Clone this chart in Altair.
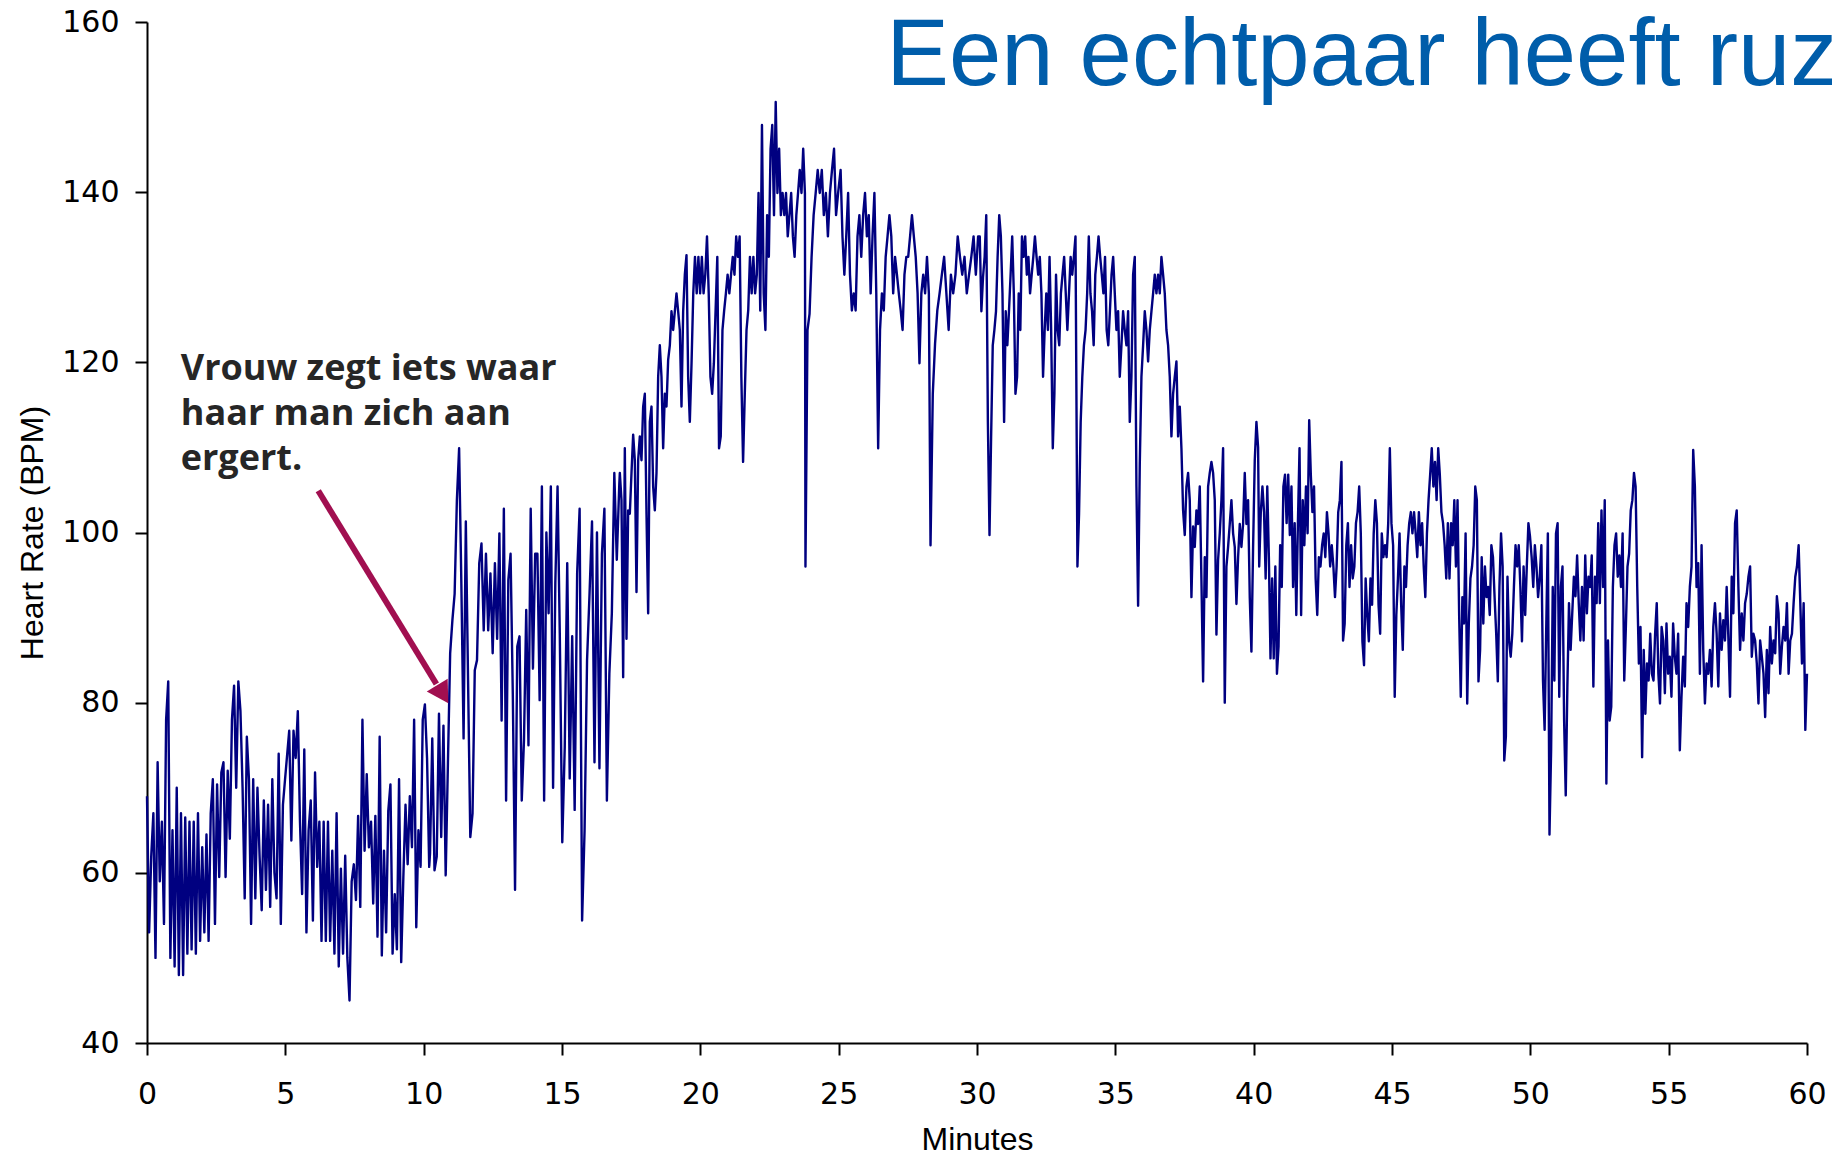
import altair as alt
import pandas as pd
import numpy as np

# ---- heart-rate readings (BPM) ----
hr_00 = [69, 53, 62, 67, 50, 73, 59, 66, 54, 78, 82.5, 50, 65, 49, 70, 48, 67, 48, 66.5, 50.5,
         66, 51, 66, 50.5, 67, 52, 63, 53, 64.5, 52, 67, 71, 54, 70.4, 59.5, 71.8, 73, 59.5, 72, 64,
         78, 82, 70, 82.5, 79, 70, 57, 76, 71, 54, 71, 57, 70, 62, 55.6, 68.5, 58, 68, 56, 71,
         60, 57, 74, 54, 68, 71]
hr_01 = [76.7, 63.8, 76.7, 73.5, 79, 66, 57.5, 74.5, 53, 65, 68.5, 54.4, 71.8, 60.7, 66, 52, 66, 52,
         66, 52, 62.6, 50.5, 67, 49, 60.5, 50.5, 62, 50, 45, 59, 61, 56.8, 66.7, 56, 78, 62.6, 71.6,
         63, 66, 56.4, 66.7, 52.5, 76, 50.3, 62.6, 53, 67.3, 70.4, 50.5, 57.5, 51, 71, 49.5, 59.5,
         68, 61, 69, 63, 78, 53.6, 65, 60.7, 78, 79.8, 73.5, 60.7]
hr_02 = [62.3, 75.8, 60.3, 61.9, 78.7, 64.2, 77.3, 59.7, 72.9, 85.8, 89.7, 92.8, 103.8, 109.9, 94,
         75.8, 101.3, 82.6, 64.2, 67, 83.8, 85, 96.4, 98.7, 88.5, 97.5, 88.5, 95.2, 85.8, 96.4, 87.5,
         99.9, 77.9, 102.8, 68.5, 94.4, 97.5, 81, 58, 86.6, 87.8, 68.5, 75.6, 90.9, 75, 102.8, 84,
         97.5, 97.5, 80.3, 105.4, 68.5, 100, 90.5, 105.4, 70, 94, 105.4, 88.1]
hr_03 = [63.6, 74.8, 96.4, 71.1, 87.8, 67.4, 95.2, 102.8, 54.4, 65, 85, 92.8, 101.3, 73, 100, 72.3,
         97.5, 102.8, 68.5, 83.4, 90.5, 107, 96.8, 105.6]
hr_04 = [107, 103.8, 83, 109.9, 87.5, 102.6, 102.2, 107, 111.5, 108.5, 93, 108.5, 111.3, 108.5, 114.8,
         116.3, 102.2, 90.5, 113, 114.8, 105.4, 102.6, 107, 118.3, 122, 118.3, 109.9, 116.3, 114.8,
         120.3, 122, 126, 123.8, 126, 128.1, 126, 123.8, 114.8, 126, 130.3, 132.6, 118.3]
hr_05 = [113, 119.9, 128.1, 132.4, 128.1, 132.4, 128.1, 132.4, 128.1, 130.3, 134.8, 128.1, 118.3, 116.3,
         119.9, 126.1, 132.4, 109.9, 111.3, 123.8, 126.1, 128.1, 130.3, 128.1, 130.3, 132.4, 130.3,
         134.8, 132.4, 134.8, 118.3, 108.3, 116.3, 123.8, 126.1, 132.4, 128.1, 132.4, 128.1, 130.3,
         139.9, 126.1, 147.9, 128.1, 123.8, 137.3, 132.4, 145.1, 147.9, 137.3, 150.6, 139.9, 145.1,
         137.3, 139.9, 137.3, 139.9, 134.8, 137.3, 139.9, 134.8, 132.4, 137.3, 139.9, 142.6, 139.9,
         145.1, 139.9]
hr_06 = [96, 123.8, 125.7, 132.4, 137.3, 139.9, 142.6, 139.9, 142.6, 137.3, 139.9, 134.8, 139.9, 142.6,
         145.1, 137.3, 139.9]
hr_07 = [142.6, 134.8, 130.3, 134.8, 139.9, 130.3, 126.1, 128.1, 126.1, 134.8, 137.3, 132.4, 137.3,
         139.9, 134.8, 137.3, 128.1, 134.8, 139.9, 128.1, 109.9, 123.8, 128.1, 126.1, 132.4, 134.8,
         137.3, 134.8, 128.1, 132.4, 130.3, 128.1, 126.1, 123.8, 130.3, 132.4, 132.4, 134.8, 137.3,
         134.8, 132.4, 128.1, 119.9, 128.1, 130.3, 128.1, 132.4, 128.1]
hr_08 = [98.5, 116.3, 122.2, 126.1, 128.1, 130.3, 132.4, 128.1, 123.8, 130.3, 128.1, 130.3, 134.8, 132.4,
         130.3, 132.4, 128.1, 130.3, 132.4, 134.8, 130.3, 134.8]
hr_09 = [134.8, 126, 130, 132.4, 137.3, 113, 99.7, 111.3, 122, 123.8, 126, 132.4, 137.3, 134.8, 128.1,
         113, 126, 122, 126, 130.3, 134.8, 128.1, 116.3, 118.3, 128.1, 123.8, 134.8, 132.4, 134.8,
         130.3, 132.4, 128.1, 130.3, 132.4, 134.8, 132.4, 130.3, 132.4, 128.1, 118.3, 123.8, 128.1,
         123.8, 132.4, 123.8, 109.9, 116.3, 130.3, 123.8, 122, 128.1, 130.3, 132.4, 128.1, 123.8,
         128.1, 132.4, 130.3, 132.4, 134.8]
hr_10 = [96, 102.2, 113, 118.3, 122, 123.8, 128.1, 134.8, 128.1, 126, 122, 130.3, 132.4, 134.8, 132.4,
         130.3, 128.1, 132.4, 123.8, 122, 126, 130.3, 132.4, 128.1]
hr_11 = [123.8, 126, 118.3, 122, 126, 123.8, 122, 126, 113, 118.3, 130.3, 132.4, 105.4, 91.4, 108, 118.3,
         122, 126, 123.8, 120.1, 123.8, 126, 128.1, 130.3, 128.1, 130.3, 128.1, 132.4, 130.3, 128.1,
         123.8, 122, 118.3, 111.3, 116.3, 118.3, 120.1, 111.3, 114.8, 109.9, 102.6, 99.7, 105.4, 107,
         103.8, 92.4, 100.7, 98.3, 102.6, 101, 105.4, 94.4, 82.5, 97.1, 92.4, 105.4, 107, 108.3, 107,
         103.8, 88, 96.8, 99.9, 103.8, 109.9, 80, 96, 98.3, 101, 103.8, 99.9, 98.3, 91.6, 97.1, 101,
         98.3, 101, 107, 101, 103.8, 92.4, 86, 98.3, 108.5, 113, 110]
hr_12 = [96, 102.4, 105.4, 102.4, 94.6, 105.4, 97.1, 85.2, 94.6, 85.2, 96, 83.4, 86.6, 98.5, 93.6, 105.4,
         106.8, 101.1, 106.8, 99.7, 105.4, 93.6, 101.1, 90.3, 101.1, 109.9, 90.3, 103.8, 98.5, 105.4,
         99.9, 113.2, 106.8, 102.4, 105.4, 94.6, 90.3, 97.1, 96, 98.5, 99.9, 97.1, 102.4, 99.9, 96,
         98.5, 96, 92.4, 96, 102.4, 103.8, 108.3, 87.3, 89.3, 98.5, 101.1, 93.6, 98.5, 94.6, 96, 101.1,
         102.4, 105.4, 99.9, 87.2, 84.4, 94.6, 90.3, 87.2, 94.6, 91.5, 99.9, 103.8, 101.1, 91.5, 88.1,
         99.9, 97.1, 98.5, 97.1, 101.1, 109.9, 101.1]
hr_13 = [98.5, 80.7, 90.3, 94.6, 99.9, 91.5, 86.2, 96, 93.6, 98.5, 101.1, 102.4, 99.9, 102.4, 99.9, 97.1,
         102.4, 98.5, 101.1, 96, 92.4, 99.9, 103.8, 106.8, 109.9, 105.4, 108.3, 103.8, 109.9, 106.8,
         102.4, 101.1, 98.5, 94.6, 101.1, 94.6, 101.1, 98.5, 103.8, 96, 103.8, 90.3, 80.7, 92.4, 89.3,
         99.9, 79.9, 89.3, 94.6, 96, 98.5, 105.4, 103.8, 82.5, 86.2, 97.1, 89.3, 96, 92.4, 93.6, 90.3,
         98.5, 97.1, 92.4, 88.1, 82.5, 93.6, 99.9, 96, 73.2, 76, 94.8, 87.2, 85.4, 88.1, 93.6, 98.5, 96,
         98.5, 93.6, 87.2, 96, 90.3, 96, 101.1, 99.5, 97.1, 93.6, 98.5, 96, 92.4]
hr_14 = [94.8, 98.5, 82.6, 76.8, 88.9, 99.9, 64.5, 74.4, 93.6, 82.6, 99.9, 101.1, 80.7, 93.6, 96, 77.9,
         69.1, 81.9, 91.7, 86.2, 90.5, 94.8, 92.5, 97.3, 91.7, 87.3, 93.6, 87.3, 97.3, 90.5, 94.8, 93.6,
         97.3, 81.9, 94.8, 91.7, 101.1, 91.7, 102.6, 93.6, 103.8, 70.5, 87.3, 77.9, 79.5, 93.6, 98.5,
         99.9, 94.8, 97.3, 93.6, 99.9, 82.6, 88.9, 96, 97.5, 102.6, 103.8, 107, 105.4, 93.6, 84.6, 88.9,
         73.6, 86.2, 78.7, 84.6, 82.6, 88.1, 83.4, 82.6, 88.1, 91.7, 83.4, 79.9, 88.9, 87.3, 81.1, 89.3,
         83.4]
hr_15 = [85.4, 80.7, 89.3, 85.4, 83.4, 88.1, 74.4, 80.7, 85.4, 81.9, 91.7, 88.9, 93.6, 96, 109.7, 105.4,
         93.6, 96.4, 83.4, 98.5, 86.2, 79.9, 84.6, 83.4, 86.2, 81.9, 88.9, 91.7, 88.1, 81.9, 90.5, 86.2,
         89.7, 87.3, 93.6, 87.7, 80.7, 94.8, 90.5, 101.1, 102.6, 93.6, 86.2, 90.5, 87.3, 91.7, 92.8, 94.8,
         96, 85.4, 88.1, 87.3, 84.6, 79.9, 87.3, 85.4, 83.4, 78.3, 86.2, 81.1, 88.9, 84.6, 87.3, 85.8,
         92.5, 90.5, 83.4, 86.6, 88.9, 87.3, 91.7, 83.4, 87.3, 88.1, 91.7, 94.8, 96, 98.5, 91.7, 84.6,
         91.7, 76.8, 83.4]

# start / end minute of each chunk of readings
chunk_start = [0.0, 5.14, 10.23, 15.01, 17.09, 19.62, 23.80, 25.07, 28.32, 30.10, 33.63, 35.04, 40.20,
               45.04, 50.34, 55.04]
chunk_end = [4.99, 10.20, 14.92, 17.07, 19.56, 23.78, 24.98, 28.26, 30.04, 33.56, 34.98, 40.16, 44.98,
             50.28, 54.98, 60.0]
chunks = [hr_00, hr_01, hr_02, hr_03, hr_04, hr_05, hr_06, hr_07, hr_08, hr_09, hr_10, hr_11, hr_12,
          hr_13, hr_14, hr_15]

# ---- annotation texts ----
title_text = ["Een echtpaar heeft ruzie"]
title_x = [26.72]
title_y = [152.65]

annot_lines = ["Vrouw zegt iets waar", "haar man zich aan", "ergert."]
annot_x = [1.22, 1.22, 1.22]
annot_y = [117.9, 112.6, 107.4]

arrow_from = (6.19, 104.9)
arrow_to = (10.46, 82.2)
arrow_head = (10.69, 81.0)

x_ticks = list(range(0, 61, 5))
y_ticks = list(range(40, 161, 20))

rows = []
for t0, t1, vals in zip(chunk_start, chunk_end, chunks):
    ts = np.linspace(t0, t1, len(vals))
    for t, v in zip(ts, vals):
        rows.append({"minute": float(t), "bpm": float(v)})
hr = pd.DataFrame(rows)

FONT = "Liberation Sans"
LABEL_FONT = "DejaVu Sans"
xscale = alt.Scale(domain=[0, 60], nice=False, zero=False)
yscale = alt.Scale(domain=[40, 160], nice=False, zero=False)

x_axis = alt.Axis(values=x_ticks, title="Minutes", grid=False, labelFont=LABEL_FONT, labelFontSize=30,
                  labelColor="black", titleFont=FONT, titleFontSize=32, titleFontWeight="normal",
                  titleColor="black", tickSize=12, tickWidth=2, tickColor="black", domainColor="black",
                  domainWidth=2, labelPadding=24, labelOverlap=False, labelFlush=False,
                  titleY=106, titleBaseline="alphabetic")
y_axis = alt.Axis(values=y_ticks, title="Heart Rate (BPM)", grid=False, labelFont=LABEL_FONT,
                  labelFontSize=30, labelColor="black", titleFont=FONT, titleFontSize=32,
                  titleFontWeight="normal", titleColor="black", tickSize=12, tickWidth=2,
                  tickColor="black", domainColor="black", domainWidth=2, labelPadding=16,
                  labelOverlap=False, labelFlush=False, titleAngle=270, titleX=-105, titleY=510.5,
                  titleBaseline="alphabetic", titleAlign="center")

line = alt.Chart(hr).mark_line(color="#000080", strokeWidth=2.4, strokeJoin="round").encode(
    x=alt.X("minute:Q", scale=xscale, axis=x_axis),
    y=alt.Y("bpm:Q", scale=yscale, axis=y_axis),
)

title_df = pd.DataFrame({"minute": title_x, "bpm": title_y, "text": title_text})
title = alt.Chart(title_df).mark_text(align="left", baseline="alphabetic", font=FONT, fontSize=94,
                                      color="#005DAA").encode(
    x="minute:Q", y="bpm:Q", text="text:N")

annot_df = pd.DataFrame({"minute": annot_x, "bpm": annot_y, "text": annot_lines})
annot = alt.Chart(annot_df).mark_text(align="left", baseline="alphabetic", font="Open Sans",
                                      fontWeight="bold", fontSize=36, color="#262626").encode(
    x="minute:Q", y="bpm:Q", text="text:N")

ARROW = "#A10F50"
arrow_df = pd.DataFrame({"minute": [arrow_from[0]], "bpm": [arrow_from[1]],
                         "minute2": [arrow_to[0]], "bpm2": [arrow_to[1]]})
shaft = alt.Chart(arrow_df).mark_rule(color=ARROW, strokeWidth=6).encode(
    x="minute:Q", y="bpm:Q", x2="minute2:Q", y2="bpm2:Q")

head_df = pd.DataFrame({"minute": [arrow_head[0]], "bpm": [arrow_head[1]]})
head = alt.Chart(head_df).mark_point(shape="triangle-up", filled=True, size=600, angle=148.5,
                                     color=ARROW, opacity=1, strokeWidth=0).encode(
    x="minute:Q", y="bpm:Q")

chart = alt.layer(line, title, annot, shaft, head).properties(
    width=1660, height=1021,
    autosize=alt.AutoSizeParams(type="none"),
    padding={"left": 139, "top": 14, "right": 25, "bottom": 109},
).configure_view(stroke=None)

chart.save("out.html", embed_options={"renderer": "svg", "actions": False})
